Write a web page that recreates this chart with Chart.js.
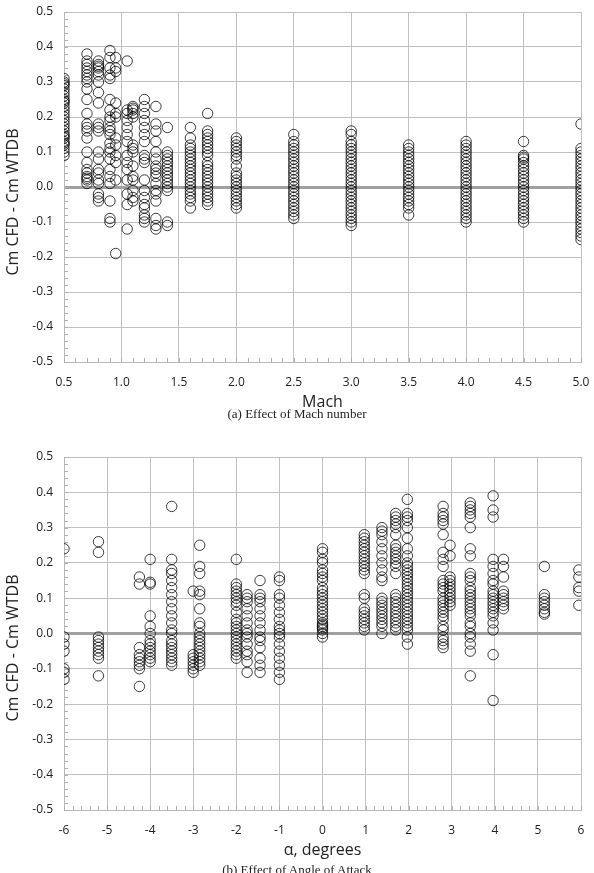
<!DOCTYPE html>
<html>
<head>
<meta charset="utf-8">
<script src="https://cdn.jsdelivr.net/npm/chart.js@4.4.1/dist/chart.umd.min.js"></script>
<style>
  body { margin: 0; background: #fff; width: 594px; height: 873px; overflow: hidden; position: relative; }
  canvas { position: absolute; left: 0; }
  #c1 { top: 0; }
  #c2 { top: 445px; }
  .caption {
    position: absolute; left: 0; width: 594px; text-align: center;
    font-family: "Liberation Serif", serif; font-size: 13px; color: #222;
  }
  .ytitle {
    position: absolute; left: -138px; width: 300px; height: 20px; line-height: 20px;
    text-align: center; transform: rotate(-90deg);
    font-family: "Open Sans", sans-serif; font-size: 16px; color: #222; white-space: nowrap;
  }
</style>
</head>
<body>
<canvas id="c1" width="594" height="418"></canvas>
<div class="ytitle" id="yt1" style="top:192px"></div>
<div class="caption" style="top:406px">(a) Effect of Mach number</div>
<canvas id="c2" width="594" height="421"></canvas>
<div class="ytitle" id="yt2" style="top:638px"></div>
<div class="caption" style="top:862px">(b) Effect of Angle of Attack</div>
<script>
// ---- data: one column of circles per test condition ----
const machCols = [0.5, 0.7, 0.8, 0.9, 0.95, 1.05, 1.1, 1.2, 1.3, 1.4, 1.6, 1.75, 2.0, 2.5, 3.0, 3.5, 4.0, 4.5, 5.0];
const machValues = [
  [0.31, 0.30, 0.295, 0.29, 0.28, 0.27, 0.26, 0.25, 0.245, 0.24, 0.23, 0.22, 0.21, 0.20, 0.19, 0.18, 0.17, 0.16, 0.15, 0.145, 0.14, 0.13, 0.125, 0.12, 0.11, 0.10, 0.09],
  [0.38, 0.36, 0.35, 0.34, 0.33, 0.32, 0.31, 0.30, 0.28, 0.25, 0.21, 0.18, 0.17, 0.16, 0.14, 0.10, 0.07, 0.05, 0.04, 0.03, 0.025, 0.02, 0.01],
  [0.36, 0.35, 0.345, 0.34, 0.33, 0.32, 0.30, 0.27, 0.24, 0.18, 0.17, 0.16, 0.10, 0.08, 0.05, 0.04, 0.02, 0.01, -0.02, -0.03, -0.04],
  [0.39, 0.37, 0.34, 0.32, 0.31, 0.25, 0.22, 0.20, 0.19, 0.17, 0.16, 0.15, 0.125, 0.11, 0.10, 0.08, 0.05, 0.03, 0.01, -0.04, -0.09, -0.10],
  [0.37, 0.34, 0.33, 0.24, 0.21, 0.20, 0.14, 0.12, 0.09, 0.07, 0.02, -0.19],
  [0.36, 0.22, 0.21, 0.19, 0.17, 0.15, 0.13, 0.09, 0.07, 0.05, 0.02, -0.02, -0.05, -0.12],
  [0.23, 0.225, 0.22, 0.21, 0.20, 0.12, 0.11, 0.10, 0.06, 0.03, 0.02, -0.01, -0.03, -0.04],
  [0.25, 0.23, 0.21, 0.19, 0.17, 0.15, 0.13, 0.09, 0.08, 0.07, 0.02, -0.01, -0.03, -0.05, -0.06, -0.08, -0.09, -0.10],
  [0.23, 0.18, 0.16, 0.13, 0.10, 0.08, 0.06, 0.05, 0.04, 0.03, 0.01, -0.01, -0.02, -0.04, -0.09, -0.11, -0.12],
  [0.17, 0.10, 0.09, 0.08, 0.07, 0.06, 0.05, 0.04, 0.03, 0.02, 0.01, 0.0, -0.01, -0.10, -0.11],
  [0.17, 0.14, 0.12, 0.11, 0.10, 0.09, 0.08, 0.07, 0.06, 0.05, 0.04, 0.03, 0.02, 0.01, 0.0, -0.01, -0.02, -0.03, -0.04, -0.06],
  [0.21, 0.16, 0.15, 0.14, 0.13, 0.12, 0.11, 0.10, 0.09, 0.07, 0.06, 0.05, 0.04, 0.03, 0.02, 0.01, 0.0, -0.01, -0.02, -0.03, -0.04, -0.05],
  [0.14, 0.13, 0.12, 0.11, 0.10, 0.09, 0.08, 0.06, 0.04, 0.03, 0.02, 0.01, 0.0, -0.01, -0.02, -0.03, -0.04, -0.05, -0.06],
  [0.15, 0.13, 0.12, 0.11, 0.10, 0.09, 0.08, 0.07, 0.06, 0.05, 0.04, 0.03, 0.02, 0.01, 0.0, -0.01, -0.02, -0.03, -0.04, -0.05, -0.06, -0.07, -0.08, -0.09],
  [0.16, 0.15, 0.13, 0.12, 0.11, 0.10, 0.09, 0.08, 0.07, 0.06, 0.05, 0.04, 0.03, 0.02, 0.01, 0.0, -0.01, -0.02, -0.03, -0.04, -0.05, -0.06, -0.07, -0.08, -0.09, -0.10, -0.11],
  [0.12, 0.11, 0.10, 0.09, 0.08, 0.07, 0.06, 0.05, 0.04, 0.03, 0.02, 0.01, 0.0, -0.01, -0.02, -0.03, -0.04, -0.05, -0.06, -0.08],
  [0.13, 0.12, 0.11, 0.10, 0.09, 0.08, 0.07, 0.06, 0.05, 0.04, 0.03, 0.02, 0.01, 0.0, -0.01, -0.02, -0.03, -0.04, -0.05, -0.06, -0.07, -0.08, -0.09, -0.10],
  [0.13, 0.09, 0.085, 0.08, 0.07, 0.06, 0.05, 0.04, 0.03, 0.02, 0.01, 0.0, -0.01, -0.02, -0.03, -0.04, -0.05, -0.06, -0.07, -0.08, -0.09, -0.10],
  [0.18, 0.11, 0.10, 0.09, 0.08, 0.07, 0.06, 0.05, 0.04, 0.03, 0.02, 0.01, 0.0, -0.01, -0.02, -0.03, -0.04, -0.05, -0.06, -0.07, -0.08, -0.09, -0.10, -0.11, -0.12, -0.13, -0.14, -0.15]
];

const alphaCols = [-6, -5.2, -4.25, -4.0, -3.5, -3.0, -2.85, -2.0, -1.75, -1.45, -1.0, 0, 0.97, 1.38, 1.7, 1.97, 2.8, 2.96, 3.43, 3.96, 4.2, 5.15, 5.95];
const alphaValues = [
  [0.24, -0.01, -0.03, -0.05, -0.10, -0.11, -0.13],
  [0.26, 0.23, -0.01, -0.02, -0.03, -0.04, -0.05, -0.06, -0.07, -0.12],
  [0.16, 0.14, -0.04, -0.06, -0.07, -0.08, -0.09, -0.10, -0.15],
  [0.21, 0.145, 0.14, 0.05, 0.02, 0.0, -0.02, -0.03, -0.04, -0.05, -0.06, -0.07, -0.08],
  [0.36, 0.21, 0.18, 0.17, 0.15, 0.13, 0.11, 0.09, 0.07, 0.05, 0.03, 0.01, 0.0, -0.02, -0.03, -0.04, -0.05, -0.06, -0.07, -0.08, -0.09],
  [0.12, -0.06, -0.07, -0.08, -0.09, -0.10, -0.11],
  [0.25, 0.19, 0.17, 0.12, 0.11, 0.07, 0.03, 0.02, 0.0, -0.01, -0.02, -0.03, -0.04, -0.05, -0.06, -0.07, -0.08, -0.09],
  [0.21, 0.14, 0.13, 0.12, 0.11, 0.10, 0.09, 0.08, 0.06, 0.04, 0.03, 0.02, 0.01, 0.0, -0.01, -0.02, -0.03, -0.04, -0.05, -0.06, -0.07],
  [0.11, 0.10, 0.09, 0.07, 0.05, 0.03, 0.01, 0.0, -0.01, -0.03, -0.05, -0.06, -0.08, -0.11],
  [0.15, 0.11, 0.10, 0.09, 0.07, 0.05, 0.03, 0.01, -0.01, -0.02, -0.04, -0.07, -0.09, -0.11],
  [0.16, 0.15, 0.11, 0.10, 0.08, 0.06, 0.04, 0.02, 0.01, 0.0, -0.01, -0.03, -0.05, -0.07, -0.09, -0.11, -0.13],
  [0.24, 0.23, 0.21, 0.20, 0.18, 0.17, 0.16, 0.15, 0.13, 0.12, 0.11, 0.10, 0.09, 0.08, 0.07, 0.06, 0.05, 0.04, 0.03, 0.025, 0.02, 0.015, 0.01, 0.0, -0.01],
  [0.28, 0.27, 0.26, 0.25, 0.24, 0.23, 0.22, 0.21, 0.20, 0.19, 0.18, 0.17, 0.11, 0.10, 0.07, 0.06, 0.05, 0.04, 0.03, 0.02, 0.01],
  [0.30, 0.29, 0.28, 0.26, 0.24, 0.22, 0.20, 0.18, 0.16, 0.15, 0.10, 0.09, 0.08, 0.07, 0.06, 0.05, 0.04, 0.03, 0.02, 0.0],
  [0.34, 0.33, 0.32, 0.31, 0.30, 0.28, 0.25, 0.24, 0.23, 0.22, 0.21, 0.20, 0.19, 0.17, 0.11, 0.10, 0.09, 0.08, 0.07, 0.06, 0.05, 0.04, 0.03, 0.02, 0.01],
  [0.38, 0.34, 0.33, 0.32, 0.30, 0.27, 0.24, 0.22, 0.20, 0.19, 0.18, 0.17, 0.16, 0.15, 0.14, 0.13, 0.12, 0.11, 0.10, 0.09, 0.08, 0.07, 0.06, 0.05, 0.04, 0.03, 0.02, 0.01, -0.01, -0.03],
  [0.36, 0.34, 0.33, 0.32, 0.31, 0.28, 0.23, 0.21, 0.19, 0.15, 0.14, 0.13, 0.12, 0.10, 0.09, 0.08, 0.07, 0.06, 0.05, 0.04, 0.02, 0.01, -0.01, -0.02, -0.03, -0.04],
  [0.25, 0.22, 0.16, 0.15, 0.14, 0.13, 0.12, 0.11, 0.10, 0.09, 0.08],
  [0.37, 0.36, 0.35, 0.34, 0.33, 0.30, 0.24, 0.22, 0.17, 0.16, 0.15, 0.13, 0.12, 0.11, 0.10, 0.09, 0.08, 0.07, 0.06, 0.05, 0.03, 0.02, 0.0, -0.01, -0.03, -0.05, -0.12],
  [0.39, 0.35, 0.33, 0.21, 0.19, 0.17, 0.15, 0.14, 0.12, 0.11, 0.10, 0.09, 0.08, 0.07, 0.06, 0.05, 0.03, 0.01, -0.06, -0.19],
  [0.21, 0.19, 0.16, 0.12, 0.11, 0.10, 0.09, 0.08, 0.07],
  [0.19, 0.11, 0.10, 0.09, 0.08, 0.07, 0.06, 0.055],
  [0.18, 0.16, 0.13, 0.12, 0.08]
];

const yTitle = 'Cm CFD - Cm WTDB';
const machTitle = 'Mach';
const alphaTitle = 'α, degrees';

document.getElementById('yt1').textContent = yTitle;
document.getElementById('yt2').textContent = yTitle;


function toPoints(cols, vals) {
  const pts = [];
  cols.forEach((x, i) => vals[i].forEach(y => pts.push({ x, y })));
  return pts;
}


// small inside tick marks like the spreadsheet minor ticks
const minorTicks = {
  id: 'minorTicks',
  beforeDatasetsDraw(chart, args, opts) {
    const { ctx, chartArea, scales } = chart;
    ctx.save();
    ctx.strokeStyle = '#b0b0b0';
    ctx.lineWidth = 1;
    ctx.beginPath();
    for (let v = -0.5; v <= 0.5001; v += 0.02) {
      const y = Math.round(scales.y.getPixelForValue(v)) + 0.5;
      ctx.moveTo(chartArea.left, y);
      ctx.lineTo(chartArea.left + 4, y);
    }
    const xs = scales.x;
    for (let v = xs.min; v <= xs.max + 1e-6; v += opts.xStep) {
      const x = Math.round(xs.getPixelForValue(v)) + 0.5;
      ctx.moveTo(x, chartArea.bottom);
      ctx.lineTo(x, chartArea.bottom - 4);
    }
    ctx.stroke();
    ctx.restore();
  }
};


function makeChart(id, points, xMin, xMax, xStep, xDigits, minorStep, xTitle) {
  return new Chart(document.getElementById(id).getContext('2d'), {
    type: 'scatter',
    data: {
      datasets: [{
        data: points,
        pointStyle: 'circle',
        pointRadius: 5.2,
        pointHoverRadius: 5.2,
        pointBorderWidth: 0.9,
        pointBorderColor: 'rgba(0,0,0,0.85)',
        pointBackgroundColor: 'rgba(0,0,0,0)'
      }]
    },
    options: {
      responsive: false,
      animation: false,
      events: [],
      layout: { padding: { top: 12, right: 13, left: 0, bottom: 0 } },
      plugins: {
        legend: { display: false },
        tooltip: { enabled: false },
        minorTicks: { xStep: minorStep }
      },
      scales: {
        x: {
          type: 'linear',
          min: xMin,
          max: xMax,
          afterFit: s => { s.height = 56; s.paddingLeft = 0; s.paddingRight = 0; },
          ticks: {
            stepSize: xStep,
            padding: 13,
            color: '#222',
            font: { family: 'Open Sans', size: 12 },
            callback: v => Number(v).toFixed(xDigits)
          },
          grid: { color: '#c0c0c0', lineWidth: 1, drawTicks: false },
          border: { color: '#b8b8b8' },
          title: {
            display: true,
            text: xTitle,
            color: '#222',
            font: { family: 'Open Sans', size: 16 },
            padding: { top: 0, bottom: 6 }
          }
        },
        y: {
          min: -0.5,
          max: 0.5,
          afterFit: s => { s.width = 64; s.paddingTop = 0; s.paddingBottom = 0; },
          ticks: {
            stepSize: 0.1,
            padding: 11,
            color: '#222',
            font: { family: 'Open Sans', size: 12 },
            callback: v => Number(v).toFixed(1)
          },
          grid: {
            drawTicks: false,
            color: c => Math.abs(c.tick.value) < 1e-9 ? '#a0a0a0' : '#c0c0c0',
            lineWidth: c => Math.abs(c.tick.value) < 1e-9 ? 3 : 1
          },
          border: { color: '#b8b8b8' },
          title: { display: false }
        }
      }
    },
    plugins: [minorTicks]
  });
}


makeChart('c1', toPoints(machCols, machValues), 0.5, 5.0, 0.5, 1, 0.1, machTitle);
makeChart('c2', toPoints(alphaCols, alphaValues), -6, 6, 1, 0, 0.2, alphaTitle);
</script>
</body>
</html>
